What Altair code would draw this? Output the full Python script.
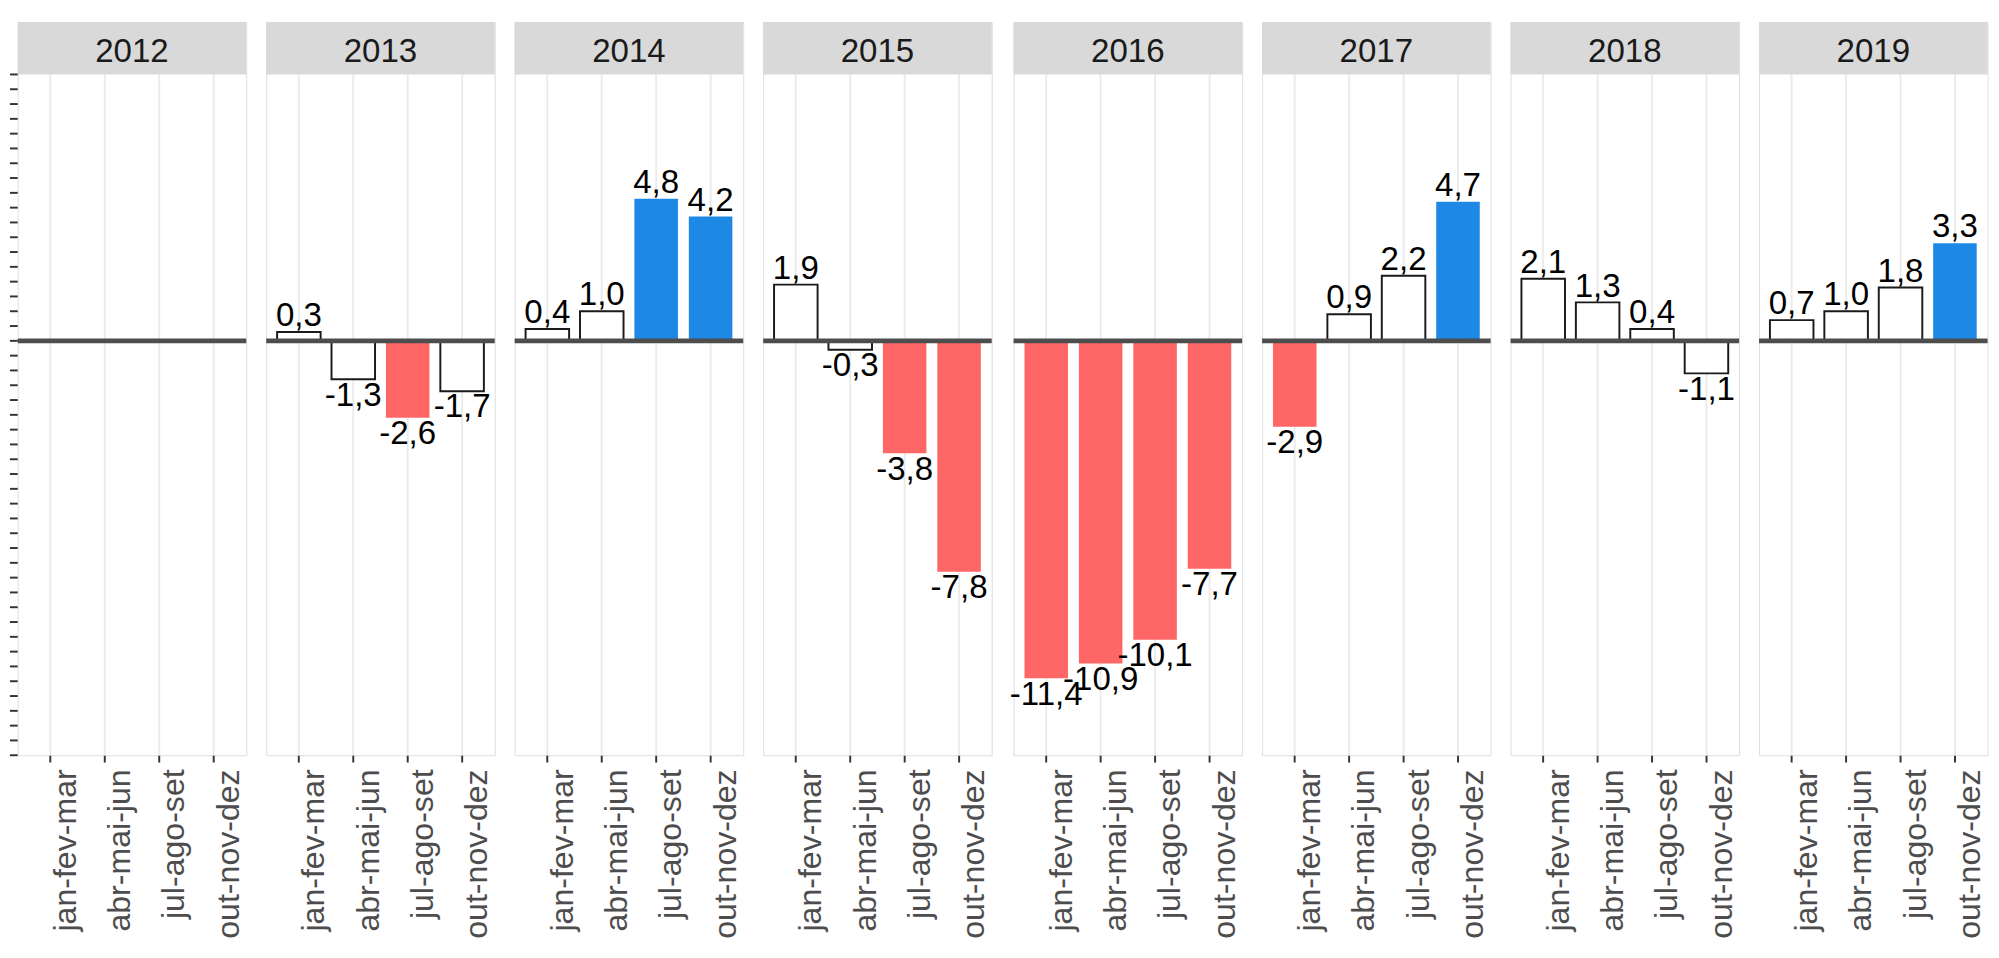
import altair as alt
import pandas as pd

quarters = ["jan-fev-mar", "abr-mai-jun", "jul-ago-set", "out-nov-dez"]
years = [2012, 2013, 2014, 2015, 2016, 2017, 2018, 2019]
values = {
    2012: [None, None, None, None],
    2013: [0.3, -1.3, -2.6, -1.7],
    2014: [0.4, 1.0, 4.8, 4.2],
    2015: [1.9, -0.3, -3.8, -7.8],
    2016: [-11.4, -10.9, -10.1, -7.7],
    2017: [-2.9, 0.9, 2.2, 4.7],
    2018: [2.1, 1.3, 0.4, -1.1],
    2019: [0.7, 1.0, 1.8, 3.3],
}
y_ticks = [i * 0.5 for i in range(-28, 19)]

rows = []
for yr in years:
    for q, v in zip(quarters, values[yr]):
        rows.append({"year": str(yr), "q": q, "v": v})
df = pd.DataFrame(rows)
tick_df = pd.DataFrame({"t": y_ticks})

FONT = "Liberation Sans"
W = 235
STRIP = 54
PX_PER_UNIT = 700 / 23
H = 700 + STRIP
Y_TOP = 9 + STRIP / PX_PER_UNIT

lab_expr = "(datum.v < 0 ? '-' : '') + replace(format(abs(datum.v), '.1f'), '.', ',')"
cat_expr = "datum.v > 2.5 ? 'pos' : (datum.v < -2.5 ? 'neg' : 'neu')"
first_q = f"datum.q == '{quarters[0]}'"


def y_scale():
    return alt.Scale(domain=[-14, Y_TOP], nice=False, zero=False)


def x_enc():
    return alt.X(
        "q:N",
        sort=quarters,
        title=None,
        scale=alt.Scale(domain=quarters, paddingInner=0.2, paddingOuter=0.2),
        axis=alt.Axis(
            grid=True, gridColor="#EBEBEB", gridWidth=2, domain=False,
            ticks=True, tickSize=7, tickColor="#333333", tickWidth=2,
            labelAngle=270, labelAlign="right", labelBaseline="top",
            labelPadding=7, labelFontSize=33, labelColor="#4D4D4D",
            labelFont=FONT, labelLimit=400,
        ),
    )


def y_axis(first):
    # Only the first panel reserves room for the (hand-drawn) tick marks.
    if first:
        return alt.Axis(labels=False, domain=False, grid=False, tickSize=8,
                        tickOpacity=0, tickCount=2)
    return alt.Axis(labels=False, domain=False, grid=False, ticks=False)


def panel(i, yr):
    first = i == 0
    ax = y_axis(first)
    base = alt.Chart(df).transform_filter(f"datum.year == '{yr}'")

    def yv():
        return alt.Y("v:Q", title=None, scale=y_scale(), axis=ax)

    bars = base.transform_filter("isValid(datum.v)").transform_calculate(
        cat=cat_expr, z="0"
    ).mark_bar().encode(
        x=x_enc(),
        y=yv(),
        y2="z:Q",
        fill=alt.Fill("cat:N", scale=alt.Scale(domain=["neg", "neu", "pos"],
                                              range=["#FF6666", "#FFFFFF", "#1E88E5"]),
                      legend=None),
        stroke=alt.condition("datum.cat == 'neu'", alt.value("#1A1A1A"), alt.value("#FFFFFF")),
        strokeWidth=alt.condition("datum.cat == 'neu'", alt.value(2), alt.value(0)),
    )

    zero = base.transform_filter(first_q).transform_calculate(z="0").mark_rule(
        color="#4D4D4D", strokeWidth=5
    ).encode(
        x=alt.value(0), x2=alt.value(W),
        y=alt.Y("z:Q", title=None, scale=y_scale(), axis=ax),
    )

    pos_lab = base.transform_filter("isValid(datum.v) && datum.v >= 0").transform_calculate(
        lab=lab_expr
    ).mark_text(dy=-6, baseline="alphabetic", fontSize=34, font=FONT, color="#000000").encode(
        x=x_enc(), y=yv(), text="lab:N"
    )
    neg_lab = base.transform_filter("isValid(datum.v) && datum.v < 0").transform_calculate(
        lab=lab_expr
    ).mark_text(dy=27, baseline="alphabetic", fontSize=34, font=FONT, color="#000000").encode(
        x=x_enc(), y=yv(), text="lab:N"
    )

    strip = base.transform_filter(first_q).mark_rect(color="#D9D9D9").encode(
        x=alt.value(0), x2=alt.value(W), y=alt.value(0), y2=alt.value(STRIP)
    )
    strip_text = base.transform_filter(first_q).mark_text(
        fontSize=34, font=FONT, color="#1A1A1A", baseline="alphabetic", align="center"
    ).encode(x=alt.value(W / 2), y=alt.value(41), text="year:N")

    layers = [bars, zero, pos_lab, neg_lab, strip, strip_text]
    if first:
        yticks = alt.Chart(tick_df).mark_rule(color="#333333", strokeWidth=2).encode(
            x=alt.value(-8), x2=alt.value(0),
            y=alt.Y("t:Q", title=None, scale=y_scale(), axis=ax),
        )
        layers.append(yticks)
    return alt.layer(*layers).properties(width=W, height=H)


chart = alt.hconcat(*[panel(i, yr) for i, yr in enumerate(years)], spacing=14.5).properties(
    padding={"left": 0, "top": 0, "right": 0, "bottom": 0}
).configure_view(strokeWidth=0).configure(font=FONT, background="#FFFFFF")

chart.save("out.html", embed_options={"renderer": "svg", "actions": False})
